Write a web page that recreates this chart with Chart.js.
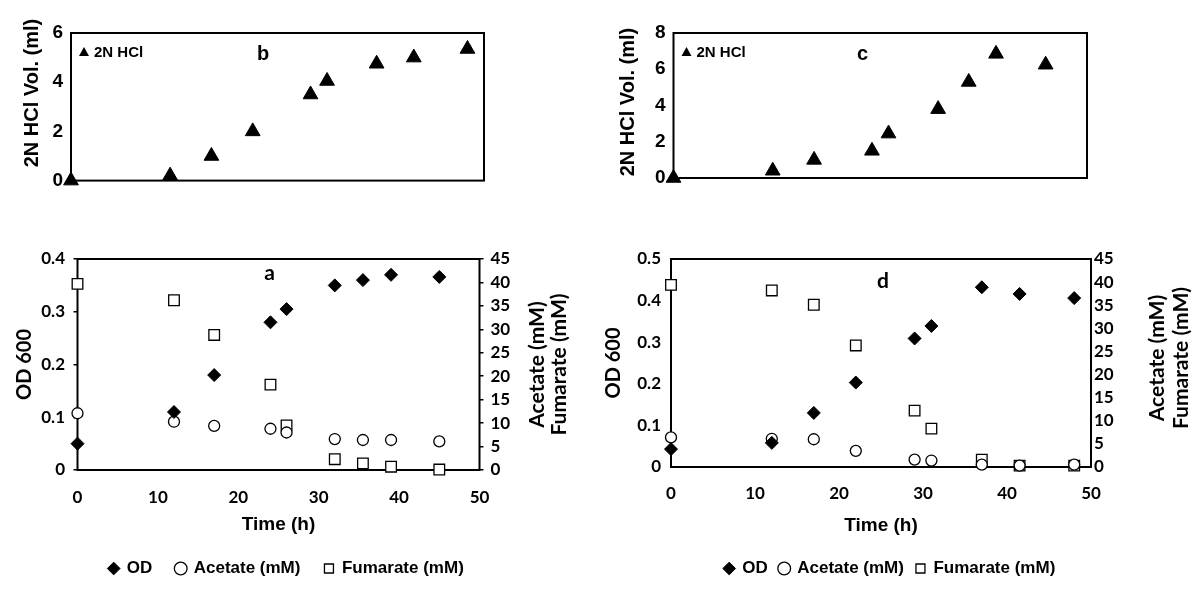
<!DOCTYPE html>
<html>
<head>
<meta charset="utf-8">
<script src="https://cdn.jsdelivr.net/npm/chart.js@4.4.1/dist/chart.umd.min.js"></script>
<style>
  body { margin: 0; background: #fff; width: 1200px; height: 609px; overflow: hidden; position: relative; }
  .panel { position: absolute; }
</style>
</head>
<body>
<div class="panel" style="left:0;top:0;width:600px;height:200px"><canvas id="chartB"></canvas></div>
<div class="panel" style="left:600px;top:0;width:600px;height:200px"><canvas id="chartC"></canvas></div>
<div class="panel" style="left:0;top:220px;width:600px;height:389px"><canvas id="chartA"></canvas></div>
<div class="panel" style="left:600px;top:220px;width:600px;height:389px"><canvas id="chartD"></canvas></div>
<script>
// panel b / c : HCl added
var timeB = [0, 12, 17, 22, 29, 31, 37, 41.5, 48];
var hclB = [0, 0.2, 1.0, 2.0, 3.5, 4.05, 4.75, 5.0, 5.35];
var timeC = [0, 12, 17, 24, 26, 32, 35.7, 39, 45];
var hclC = [0, 0.4, 1.0, 1.5, 2.45, 3.8, 5.3, 6.85, 6.25];

// panel a
var timeA = [0, 12, 17, 24, 26, 32, 35.5, 39, 45];
var odA = [0.05, 0.11, 0.18, 0.28, 0.305, 0.35, 0.36, 0.37, 0.366];
var acetateA = [12.1, 10.3, 9.4, 8.8, 8.0, 6.6, 6.4, 6.4, 6.1];
var fumarateA = [39.7, 36.2, 28.8, 18.2, 9.5, 2.3, 1.4, 0.7, 0.1];

// panel d
var timeD = [0, 12, 17, 22, 29, 31, 37, 41.5, 48];
var odD = [0.043, 0.058, 0.130, 0.203, 0.309, 0.339, 0.432, 0.416, 0.406];
var acetateD = [6.4, 6.1, 6.0, 3.5, 1.6, 1.4, 0.5, 0.3, 0.5];
var fumarateD = [39.4, 38.2, 35.1, 26.3, 12.2, 8.3, 1.6, 0.3, 0.3];

var timeTicks = [0, 10, 20, 30, 40, 50];

var ARIAL = "'Liberation Sans', Arial, sans-serif";
var CALI = "Lato, 'Liberation Sans', sans-serif";

function pts(xs, ys) {
  var out = [];
  for (var i = 0; i < xs.length; i++) out.push({x: xs[i], y: ys[i]});
  return out;
}

// frame, panel letter, inner legend, side titles
var decor = {
  id: 'decor',
  beforeDatasetsDraw: function(chart, args, opts) {
    var a = chart.chartArea, ctx = chart.ctx;
    ctx.save();
    ctx.strokeStyle = '#000';
    ctx.lineWidth = opts.frame || 2;
    ctx.strokeRect(a.left, a.top, a.right - a.left, a.bottom - a.top);
    ctx.restore();
  },
  afterDraw: function(chart, args, opts) {
    var a = chart.chartArea, ctx = chart.ctx;
    ctx.save();
    ctx.fillStyle = '#000';
    ctx.textAlign = 'center';
    ctx.textBaseline = 'middle';
    if (opts.letter) {
      ctx.font = opts.letterFont;
      ctx.fillText(opts.letter, a.left + opts.letterX, a.top + opts.letterY);
    }
    if (opts.innerLegend) {
      var lx = a.left + 13, ly = a.top + 20;
      ctx.beginPath();
      ctx.moveTo(lx, ly - 6);
      ctx.lineTo(lx + 5, ly + 3);
      ctx.lineTo(lx - 5, ly + 3);
      ctx.closePath();
      ctx.fill();
      ctx.font = "bold 15px " + ARIAL;
      ctx.textAlign = 'left';
      ctx.fillText(chart.data.datasets[0].label, lx + 10, ly);
      ctx.textAlign = 'center';
    }
    if (opts.leftTitle) {
      ctx.save();
      ctx.font = opts.leftFont;
      ctx.translate(opts.leftX, opts.leftY);
      ctx.rotate(-Math.PI / 2);
      ctx.fillText(opts.leftTitle, 0, 0);
      ctx.restore();
    }
    if (opts.rightTitles) {
      ctx.font = opts.rightFont;
      var cy = (a.top + a.bottom) / 2 + (opts.rightDy || 0);
      opts.rightTitles.forEach(function(t, i) {
        ctx.save();
        ctx.translate(a.right + opts.rightX[i], cy);
        ctx.rotate(-Math.PI / 2);
        ctx.fillText(t, 0, 0);
        ctx.restore();
      });
    }
    ctx.restore();
  }
};

function hclChart(id, xs, ys, yMax, yWidth, pad, titleX, titleY, letter, letterX) {
  return new Chart(document.getElementById(id), {
    type: 'scatter',
    data: {
      datasets: [{
        label: '2N HCl',
        data: pts(xs, ys),
        pointStyle: 'triangle',
        pointRadius: 8.5,
        pointHoverRadius: 8.5,
        backgroundColor: '#000',
        borderColor: '#000',
        borderWidth: 1,
        clip: false
      }]
    },
    options: {
      responsive: true,
      maintainAspectRatio: false,
      animation: false,
      layout: { padding: pad },
      scales: {
        x: { type: 'linear', min: 0, max: 50, display: false },
        y: {
          min: 0, max: yMax,
          ticks: { stepSize: 2, color: '#000', padding: 8, font: { family: ARIAL, weight: 'bold', size: 19 } },
          grid: { display: false, drawTicks: false },
          border: { display: false },
          afterFit: function(s) { s.width = yWidth; }
        }
      },
      plugins: {
        legend: { display: false },
        tooltip: { enabled: false },
        decor: { frame: 2, letter: letter, letterX: letterX, letterY: 21, letterFont: "bold 20px " + ARIAL,
                 innerLegend: true,
                 leftTitle: '2N HCl Vol. (ml)', leftX: titleX, leftY: titleY, leftFont: "bold 20px " + ARIAL }
      }
    },
    plugins: [decor]
  });
}

function growthChart(id, xs, od, ac, fu, odMax, odStep, cfg) {
  return new Chart(document.getElementById(id), {
    type: 'scatter',
    data: {
      datasets: [
        { label: 'OD', data: pts(xs, od), yAxisID: 'y', pointStyle: 'rectRot', pointRadius: 6.5, pointHoverRadius: 6.5,
          backgroundColor: '#000', borderColor: '#000', borderWidth: 1, clip: false },
        { label: 'Acetate (mM)', data: pts(xs, ac), yAxisID: 'y1', pointStyle: 'circle', pointRadius: 5.5, pointHoverRadius: 5.5,
          backgroundColor: '#fff', borderColor: '#000', borderWidth: 1.3, clip: false },
        { label: 'Fumarate (mM)', data: pts(xs, fu), yAxisID: 'y1', pointStyle: 'rect', pointRadius: 7.5, pointHoverRadius: 7.5,
          backgroundColor: '#fff', borderColor: '#000', borderWidth: 1.3, clip: false }
      ]
    },
    options: {
      responsive: true,
      maintainAspectRatio: false,
      animation: false,
      layout: { padding: cfg.pad },
      scales: {
        x: {
          type: 'linear', min: 0, max: 50,
          afterBuildTicks: function(s) { s.ticks = timeTicks.map(function(v) { return {value: v}; }); },
          ticks: { color: '#000', padding: cfg.xPad, autoSkip: false, font: { family: CALI, weight: 'bold', size: 17 } },
          grid: { display: false, drawTicks: false },
          border: { display: false },
          title: { display: true, text: 'Time (h)', color: '#000', padding: { top: 0, bottom: cfg.timePad },
                   font: { family: ARIAL, weight: 'bold', size: 19 } },
          afterFit: function(s) { s.height = cfg.xHeight; }
        },
        y: {
          position: 'left', min: 0, max: odMax,
          ticks: { stepSize: odStep, color: '#000', padding: cfg.yPad, autoSkip: false,
                   font: { family: CALI, weight: 'bold', size: 17 } },
          grid: { display: cfg.yTicks > 0, drawOnChartArea: false, drawTicks: cfg.yTicks > 0,
                  tickLength: cfg.yTicks, color: '#000', lineWidth: 1.5 },
          border: { display: false },
          title: { display: true, text: 'OD 600', color: '#000', padding: { top: cfg.odTitlePad, bottom: 0 },
                   font: { family: CALI, weight: 'bold', size: 20 } },
          afterFit: function(s) { s.width = cfg.yWidth; }
        },
        y1: {
          position: 'right', min: 0, max: 45,
          ticks: { stepSize: 5, color: '#000', padding: cfg.y1Pad, autoSkip: false,
                   font: { family: CALI, weight: 'bold', size: 17 } },
          grid: { display: cfg.y1Ticks > 0, drawOnChartArea: false, drawTicks: cfg.y1Ticks > 0,
                  tickLength: cfg.y1Ticks, color: '#000', lineWidth: 1.5 },
          border: { display: false },
          afterFit: function(s) { s.width = cfg.y1Width; }
        }
      },
      plugins: {
        legend: {
          position: 'bottom', align: 'center', padding: 10,
          labels: { usePointStyle: true, boxWidth: 9, boxHeight: 9, color: '#000', padding: cfg.legendGap,
                    font: { family: ARIAL, weight: 'bold', size: 17 } }
        },
        tooltip: { enabled: false },
        decor: { frame: 2, letter: cfg.letter, letterX: cfg.letterX, letterY: cfg.letterY,
                 letterFont: "bold 21px " + CALI,
                 rightTitles: ['Acetate (mM)', 'Fumarate (mM)'], rightX: cfg.rightX, rightDy: cfg.rightDy,
                 rightFont: "bold 21px " + CALI }
      }
    },
    plugins: [decor]
  });
}

hclChart('chartB', timeB, hclB, 6, 71, { left: 0, right: 116, top: 33, bottom: 18 }, 32, 93, 'b', 192);
hclChart('chartC', timeC, hclC, 8, 73.5, { left: 0, right: 113, top: 33, bottom: 22 }, 28.5, 102, 'c', 189);

growthChart('chartA', timeA, odA, acetateA, fumarateA, 0.4, 0.1, {
  pad: { left: 0, right: 27, top: 39, bottom: 22 }, xHeight: 66, xPad: 17, timePad: 0,
  yWidth: 77.5, yPad: 8.5, yTicks: 4, odTitlePad: 12.5,
  y1Width: 93.5, y1Pad: 7, y1Ticks: 4, legendGap: 24,
  letter: 'a', letterX: 192, letterY: 14, rightX: [57.5, 80], rightDy: 0
});
growthChart('chartD', timeD, odD, acetateD, fumarateD, 0.5, 0.1, {
  pad: { left: 0, right: 20, top: 39, bottom: 22 }, xHeight: 81, xPad: 16, timePad: 11,
  yWidth: 71, yPad: 10, yTicks: 0, odTitlePad: 1.5,
  y1Width: 89, y1Pad: 3, y1Ticks: 0, legendGap: 12,
  letter: 'd', letterX: 212, letterY: 22, rightX: [66, 90.5], rightDy: -5
});
</script>
</body>
</html>
